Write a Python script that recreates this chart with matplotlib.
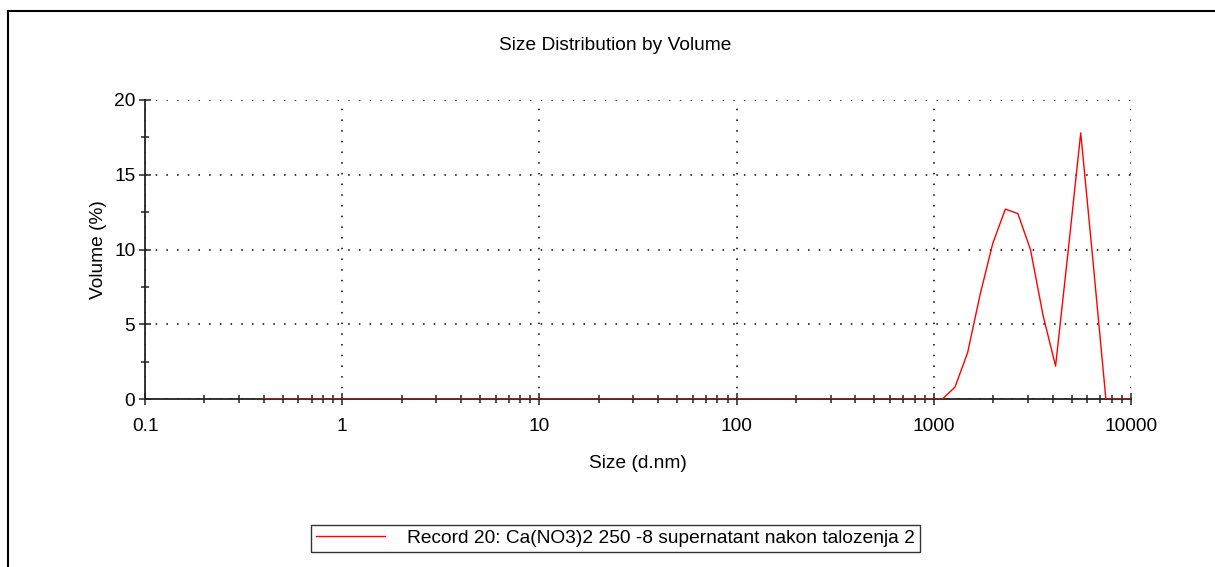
import matplotlib
matplotlib.use('Agg')
import matplotlib.pyplot as plt
from matplotlib.lines import Line2D
from matplotlib.ticker import LogLocator, MultipleLocator, FixedFormatter, FixedLocator
import numpy as np

plt.rcParams['font.family'] = ['Liberation Sans', 'DejaVu Sans']

# Zetasizer size bins (d.nm)
sizes = [0.3999, 0.4632, 0.5365, 0.6213, 0.7195, 0.8332, 0.9650, 1.117, 1.294, 1.499,
         1.736, 2.010, 2.328, 2.696, 3.122, 3.615, 4.187, 4.849, 5.615, 6.503,
         7.531, 8.721, 10.10, 11.70, 13.54, 15.69, 18.17, 21.04, 24.36, 28.21,
         32.67, 37.84, 43.82, 50.75, 58.77, 68.06, 78.82, 91.28, 105.7, 122.4,
         141.8, 164.2, 190.1, 220.2, 255.0, 295.3, 342.0, 396.1, 458.7, 531.2,
         615.1, 712.4, 825.0, 955.4, 1106, 1281, 1484, 1718, 1990, 2305,
         2669, 3091, 3580, 4145, 4801, 5560, 6439, 7456, 8635, 10000]
# volume (%) - zero below ~1100 nm
volume = [0.0] * 54 + [0.0, 0.8, 3.1, 7.0, 10.4, 12.7,
                       12.4, 10.0, 5.6, 2.2, 9.9, 17.8, 9.0, 0.0, 0.0, 0.0]

record_label = 'Record 20: Ca(NO3)2 250 -8 supernatant nakon talozenja 2'
x_ticks = [0.1, 1, 10, 100, 1000, 10000]
x_tick_labels = ['0.1', '1', '10', '100', '1000', '10000']
y_ticks = [0, 5, 10, 15, 20]

fs = 13.8

fig = plt.figure(figsize=(12.15, 5.67), dpi=100)
ax = fig.add_axes([145 / 1215, 1 - 399 / 567, (1131 - 145) / 1215, (399 - 100) / 567])

ax.plot(sizes, volume, color='#ff0000', lw=1.0, label=record_label, zorder=3)

ax.set_xscale('log')
ax.set_xlim(0.1, 10000)
ax.set_ylim(0, 20)
ax.xaxis.set_major_locator(FixedLocator(x_ticks))
ax.xaxis.set_major_formatter(FixedFormatter(x_tick_labels))
ax.xaxis.set_minor_locator(LogLocator(base=10, subs=np.arange(2, 10)))
ax.xaxis.set_minor_formatter(plt.NullFormatter())
ax.set_yticks(y_ticks)
ax.yaxis.set_minor_locator(MultipleLocator(2.5))

ax.tick_params(axis='both', which='major', direction='inout', length=8, width=1.1,
               labelsize=fs, color='#222222', pad=3)
ax.tick_params(axis='both', which='minor', direction='inout', length=6, width=1.1,
               color='#222222')
ax.tick_params(axis='x', which='major', pad=10)

for s in ['top', 'right']:
    ax.spines[s].set_visible(False)
for s in ['left', 'bottom']:
    ax.spines[s].set_linewidth(1.3)
    ax.spines[s].set_color('#222222')

ax.grid(True, which='major', color='black', linestyle=(0, (1, 6)), lw=1.1)

ax.set_title('Size Distribution by Volume', fontsize=fs, pad=36, x=(615 - 145) / 986)
ax.set_xlabel('Size (d.nm)', fontsize=fs, labelpad=14)
ax.set_ylabel('Volume (%)', fontsize=fs, labelpad=5)

fig.legend(loc='center', bbox_to_anchor=(615.5 / 1215, 1 - 538 / 567), fontsize=fs,
           frameon=True, fancybox=False, edgecolor='#333333', framealpha=1,
           handlelength=3.6, handletextpad=1.15, borderpad=0.25, borderaxespad=0)

# outer frame (left and top edges)
fig.add_artist(Line2D([7.5 / 1215, 7.5 / 1215], [0, 1 - 10.5 / 567], color='black', lw=1.5,
                      transform=fig.transFigure))
fig.add_artist(Line2D([7.5 / 1215, 1], [1 - 10.5 / 567, 1 - 10.5 / 567], color='black', lw=1.5,
                      transform=fig.transFigure))

fig.savefig('out.png', dpi=100)
